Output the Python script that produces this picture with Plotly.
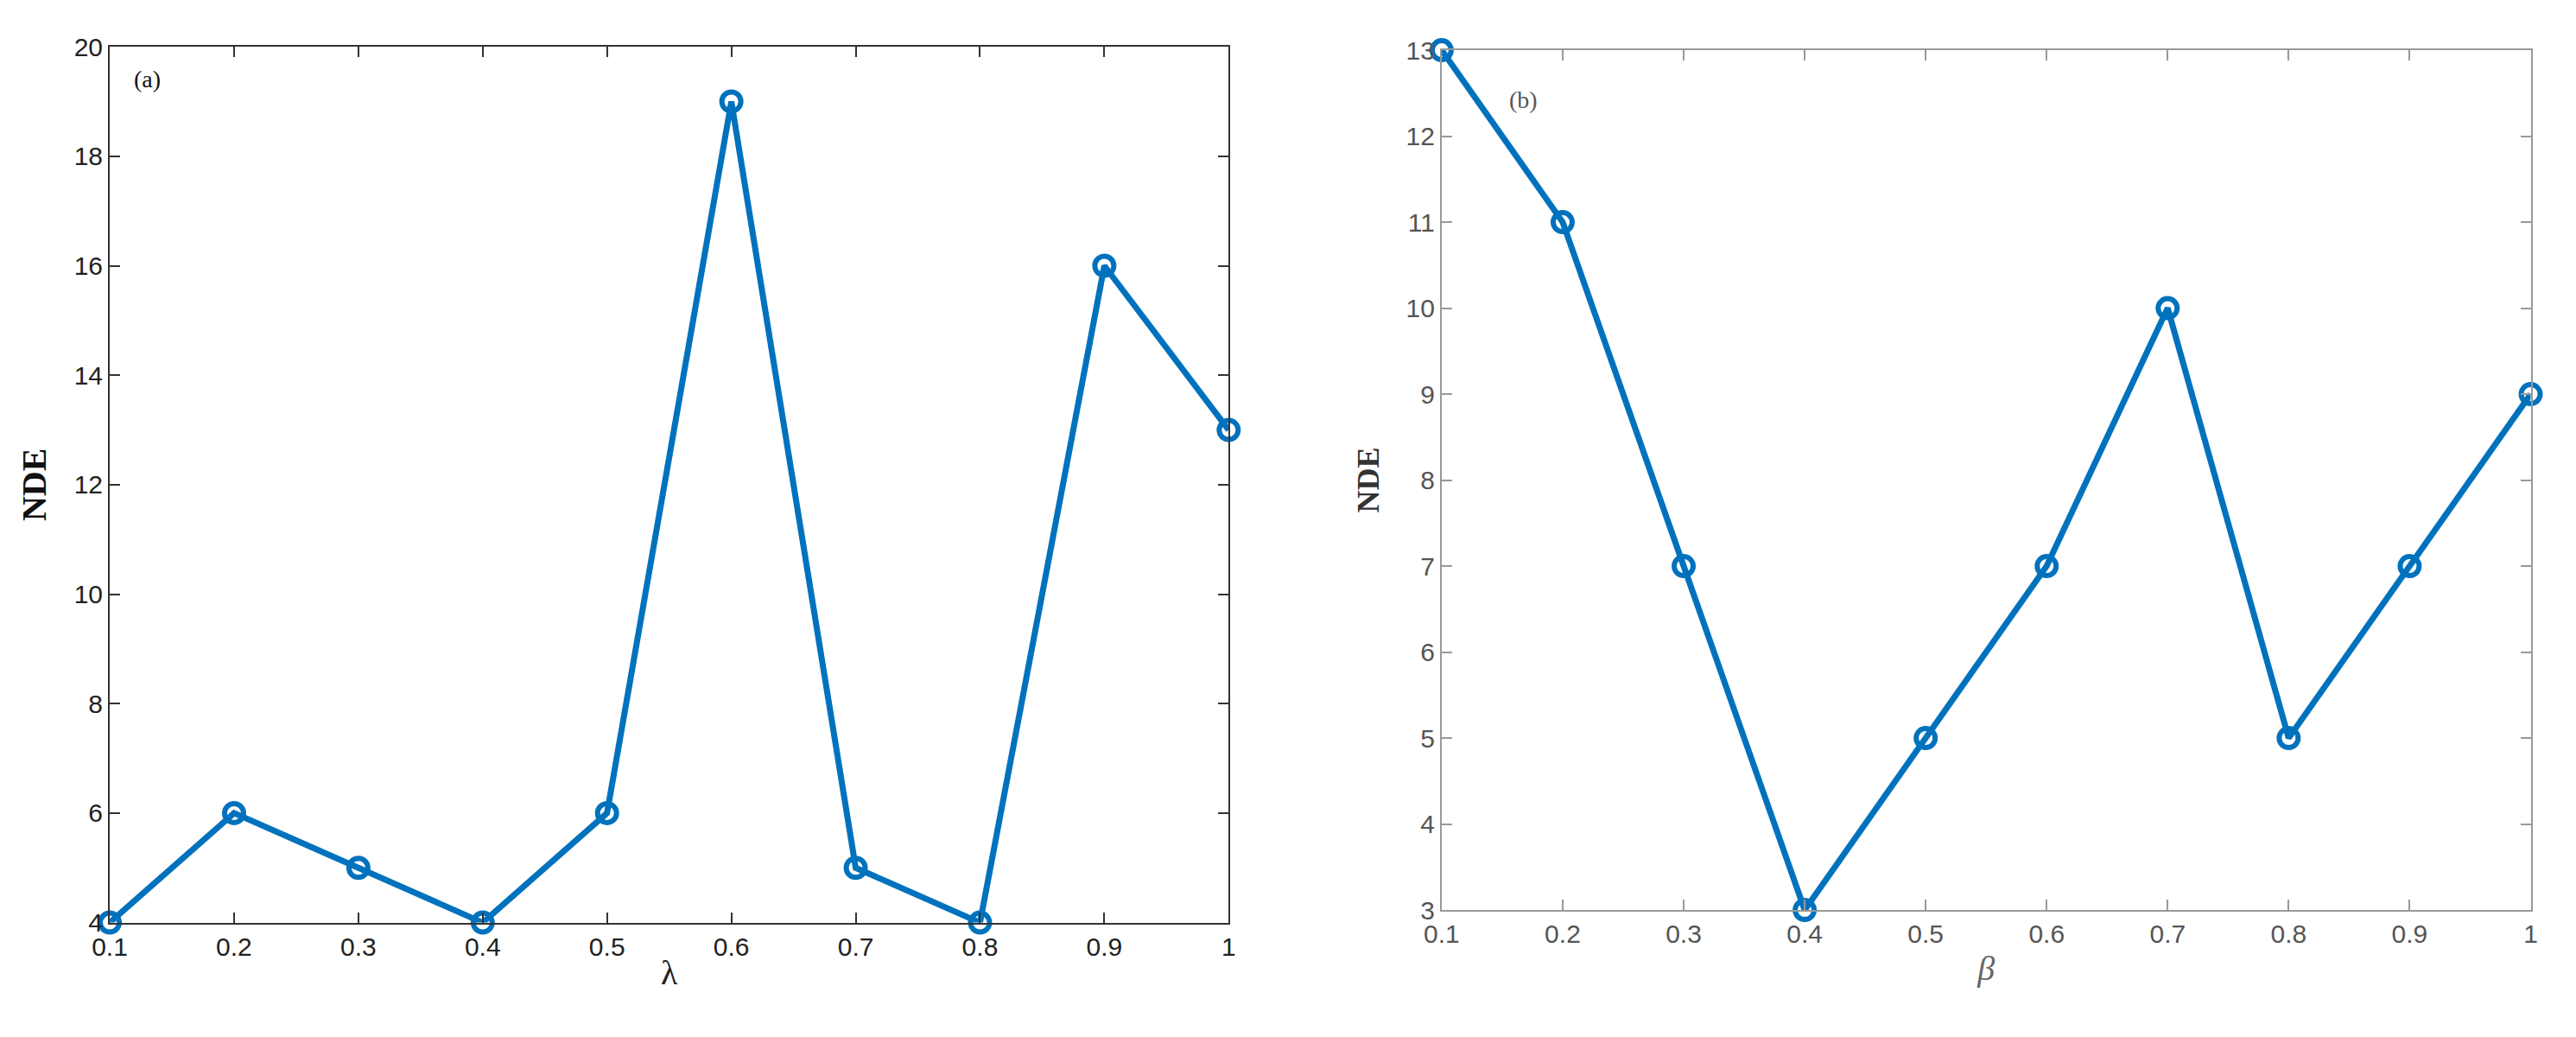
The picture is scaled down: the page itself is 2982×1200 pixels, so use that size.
import plotly.graph_objects as go

x_vals = [0.1, 0.2, 0.3, 0.4, 0.5, 0.6, 0.7, 0.8, 0.9, 1.0]
nde_lambda = [4, 6, 5, 4, 6, 19, 5, 4, 16, 13]
nde_beta = [13, 11, 7, 3, 5, 7, 10, 5, 7, 9]
x_ticks = ["0.1", "0.2", "0.3", "0.4", "0.5", "0.6", "0.7", "0.8", "0.9", "1"]

W, H = 2982, 1200
color = "#0072BD"
fig = go.Figure()
mk = dict(symbol="circle-open", size=22, line=dict(width=6, color=color))
fig.add_trace(go.Scatter(x=x_vals, y=nde_lambda, mode="lines+markers",
                         line=dict(color=color, width=7), marker=mk, xaxis="x", yaxis="y"))
fig.add_trace(go.Scatter(x=x_vals, y=nde_beta, mode="lines+markers",
                         line=dict(color=color, width=7), marker=mk, xaxis="x2", yaxis="y2"))

ax_common = dict(showgrid=False, zeroline=False, showline=True, mirror="ticks",
                 ticks="inside", ticklen=12, tickwidth=2, linewidth=2)
fig.update_layout(
    width=W, height=H, showlegend=False, plot_bgcolor="white", paper_bgcolor="white",
    margin=dict(l=0, r=0, t=0, b=0),
    xaxis=dict(domain=[99/W, 1407/W], range=[0.1, 1.0], tickvals=x_vals, ticktext=x_ticks,
               linecolor="#333", tickcolor="#333", tickfont=dict(family="Arial", size=30, color="#222"),
               title=dict(text="λ", font=dict(family="Times New Roman", size=40, color="#222"), standoff=0),
               anchor="y", **ax_common),
    yaxis=dict(domain=[1 - 1073/H, 1 - 30/H], range=[4, 20], dtick=2,
               linecolor="#333", tickcolor="#333", tickfont=dict(family="Arial", size=30, color="#222"),
               title=dict(text="<b>NDE</b>", font=dict(family="Times New Roman", size=40, color="#111"), standoff=20),
               anchor="x", **ax_common),
    xaxis2=dict(domain=[1656/W, 2929/W], range=[0.1, 1.0], tickvals=x_vals, ticktext=x_ticks,
                linecolor="#999", tickcolor="#999", tickfont=dict(family="Arial", size=30, color="#555"),
                title=dict(text="<i>β</i>", font=dict(family="Times New Roman", size=40, color="#666"), standoff=10),
                anchor="y2", **ax_common),
    yaxis2=dict(domain=[1 - 1058/H, 1 - 34/H], range=[3, 13], dtick=1,
                linecolor="#999", tickcolor="#999", tickfont=dict(family="Arial", size=30, color="#555"),
                title=dict(text="<b>NDE</b>", font=dict(family="Times New Roman", size=36, color="#333"), standoff=20),
                anchor="x2", **ax_common),
    annotations=[
        dict(text="(a)", x=0.02, y=0.98, xref="x domain", yref="y domain", showarrow=False,
             xanchor="left", yanchor="top", font=dict(family="Times New Roman", size=28, color="#111")),
        dict(text="(b)", x=0.06, y=0.96, xref="x2 domain", yref="y2 domain", showarrow=False,
             xanchor="left", yanchor="top", font=dict(family="Times New Roman", size=28, color="#555")),
    ],
)
fig.update_traces(cliponaxis=False)
fig.write_html("out.html")
